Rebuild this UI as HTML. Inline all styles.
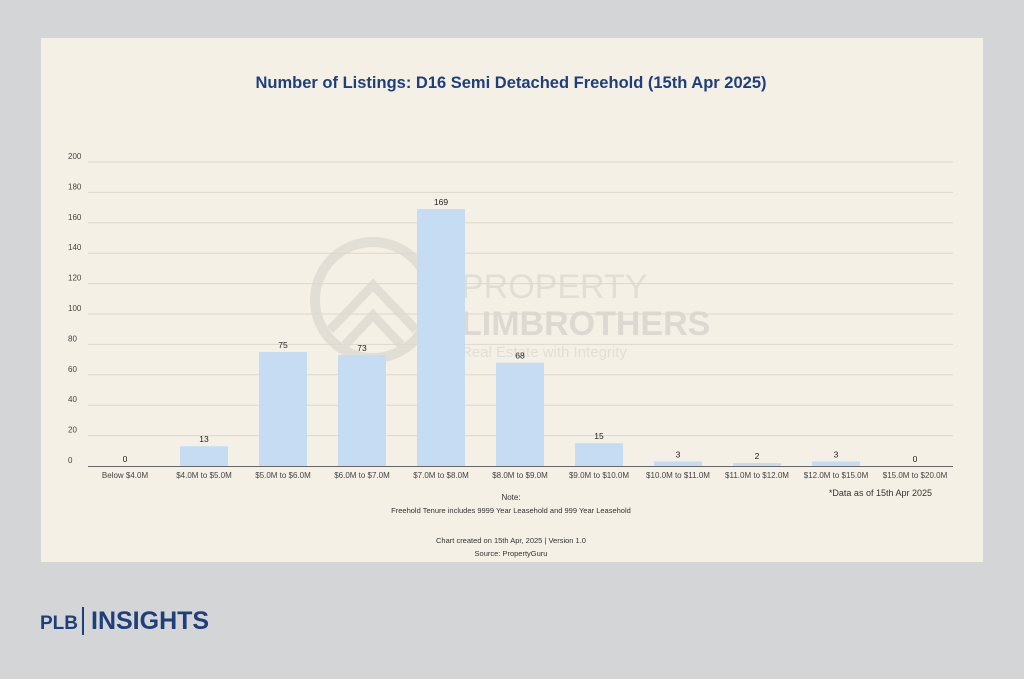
<!DOCTYPE html>
<html><head><meta charset="utf-8"><style>
body{margin:0;width:1024px;height:679px;background:#d4d5d7;font-family:"Liberation Sans",sans-serif;overflow:hidden;position:relative}
#card{position:absolute;left:41px;top:38px;width:942px;height:524px;background:#f5f0e6}
</style></head><body>
<div id="card"></div>
<svg id="chart" width="1024" height="679" style="position:absolute;left:0;top:0" font-family="Liberation Sans, sans-serif">
<text x="511" y="88" text-anchor="middle" font-size="16.5" font-weight="bold" fill="#1f3f7a">Number of Listings: D16 Semi Detached Freehold (15th Apr 2025)</text>
<g id="wm" opacity="0.25">
<circle cx="373" cy="300" r="58" fill="none" stroke="#aaa" stroke-width="10"/>
<path d="M330 330 L373 285 L416 330 M345 345 L373 315 L401 345" fill="none" stroke="#aaa" stroke-width="9"/>
<text x="461" y="298" font-size="34" fill="#aaa">PROPERTY</text>
<text x="461" y="335" font-size="34" font-weight="bold" fill="#999">LIMBROTHERS</text>
<text x="461" y="357" font-size="15" fill="#aaa">Real Estate with Integrity</text>
</g>
<g id="grid"></g><g id="bars"></g>
<text x="511" y="500" text-anchor="middle" font-size="8" fill="#333">Note:</text>
<text x="511" y="513" text-anchor="middle" font-size="7.5" fill="#333">Freehold Tenure includes 9999 Year Leasehold and 999 Year Leasehold</text>
<text x="511" y="543" text-anchor="middle" font-size="7.5" fill="#333">Chart created on 15th Apr, 2025 | Version 1.0</text>
<text x="511" y="556" text-anchor="middle" font-size="7.5" fill="#333">Source: PropertyGuru</text>
<text x="932" y="496" text-anchor="end" font-size="9" fill="#333">*Data as of 15th Apr 2025</text>
<text x="40" y="629" font-size="19" font-weight="bold" fill="#1f3f7a">PLB</text>
<rect x="82" y="607" width="2" height="28" fill="#1f3f7a"/>
<text x="91" y="629" font-size="25" font-weight="bold" fill="#1f3f7a">INSIGHTS</text>
</svg>
<script>
const categories=["Below $4.0M","$4.0M to $5.0M","$5.0M to $6.0M","$6.0M to $7.0M","$7.0M to $8.0M","$8.0M to $9.0M","$9.0M to $10.0M","$10.0M to $11.0M","$11.0M to $12.0M","$12.0M to $15.0M","$15.0M to $20.0M"];
const values=[0,13,75,73,169,68,15,3,2,3,0];
const ticks=[0,20,40,60,80,100,120,140,160,180,200];
const NS="http://www.w3.org/2000/svg";
const y=v=>466-v*1.52, x=i=>125+i*79;
const g=document.getElementById('grid'), b=document.getElementById('bars');
function mk(p,t,a){const e=document.createElementNS(NS,t);for(const k in a)e.setAttribute(k,a[k]);p.appendChild(e);return e;}
ticks.forEach(t=>{
 if(t>0){const l=mk(g,'line',{x1:88,x2:953,y1:y(t),y2:y(t),stroke:'#ddd8cc','stroke-width':1});
 
 }
 const tx=mk(g,'text',{x:68,y:y(t)-3,'font-size':8,fill:'#444'});tx.textContent=t;
 
 
});
const ax=mk(g,'line',{x1:88,x2:953,y1:466.5,y2:466.5,stroke:'#666','stroke-width':1});


categories.forEach((c,i)=>{
 const r=mk(b,'rect',{x:x(i)-24,y:y(values[i]),width:48,height:values[i]*1.52,fill:'#c5dcf3'});
 
 
 const v=mk(b,'text',{x:x(i),y:y(values[i])-4,'text-anchor':'middle','font-size':8.5,fill:'#222'});v.textContent=values[i];
 
 
 const l=mk(b,'text',{x:x(i),y:478,'text-anchor':'middle','font-size':8,fill:'#444'});l.textContent=c;
 
 
});
</script>
</body></html>
